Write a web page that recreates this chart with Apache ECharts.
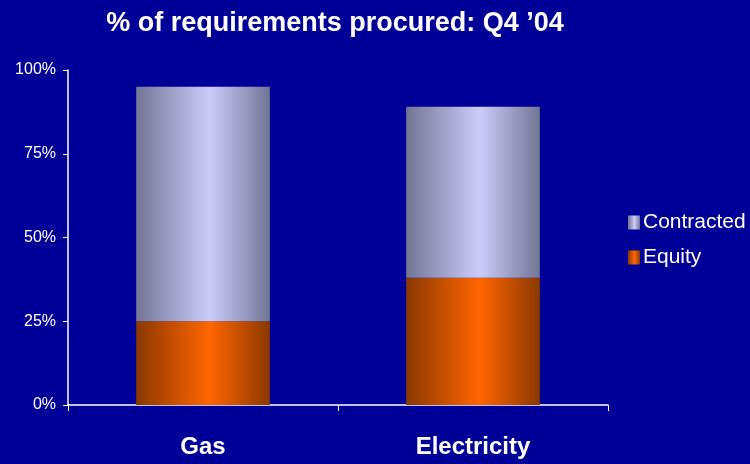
<!DOCTYPE html>
<html>
<head>
<meta charset="utf-8">
<script src="https://cdn.jsdelivr.net/npm/echarts@6/dist/echarts.min.js"></script>
<style>
  html, body { margin: 0; padding: 0; background: #000099; }
  #chart { width: 750px; height: 464px; }
</style>
</head>
<body>
<div id="chart"></div>
<script>
// data
const categories = ['Gas', 'Electricity'];
const equity = [25, 38];
const contracted = [70, 51];
const yTicks = [0, 25, 50, 75, 100];

// horizontal "cylinder" gradients
function cyl(edge, mid) {
  return new echarts.graphic.LinearGradient(0, 0, 1, 0, [
    { offset: 0, color: edge },
    { offset: 0.55, color: mid },
    { offset: 1, color: edge }
  ]);
}

const chart = echarts.init(document.getElementById('chart'));

chart.setOption({
  backgroundColor: '#000099',
  animation: false,
  textStyle: { fontFamily: 'Liberation Sans, Arial, sans-serif' },
  title: {
    text: '% of requirements procured: Q4 \u201904',
    left: 330,
    textAlign: 'center',
    top: 5,
    textStyle: { color: '#fff', fontSize: 27, fontWeight: 'bold' }
  },
  legend: {
    orient: 'vertical',
    left: 623,
    top: 207,
    itemWidth: 12,
    itemHeight: 14,
    itemGap: 14,
    icon: 'rect',
    data: ['Contracted', 'Equity'],
    textStyle: { color: '#fff', fontSize: 21, padding: [0, 0, 0, -2] }
  },
  grid: { left: 68, right: 142, top: 70, bottom: 59 },
  xAxis: {
    type: 'category',
    data: categories,
    axisLine: { lineStyle: { color: '#fff', width: 1.5 } },
    axisTick: { show: true, length: 6, lineStyle: { color: '#fff' } },
    axisLabel: { color: '#fff', fontSize: 24, fontWeight: 'bold', margin: 30 }
  },
  yAxis: {
    type: 'value',
    min: yTicks[0],
    max: yTicks[yTicks.length - 1],
    interval: 25,
    splitLine: { show: false },
    axisLine: { show: true, lineStyle: { color: '#fff', width: 1.5 } },
    axisTick: { show: true, length: 5, lineStyle: { color: '#fff' } },
    axisLabel: { color: '#fff', fontSize: 16, margin: 12, formatter: '{value}%' }
  },
  series: [
    {
      name: 'Equity',
      type: 'bar',
      stack: 'total',
      barWidth: '49.5%',
      data: equity,
      itemStyle: { color: cyl('#8a3800', '#ff6600') }
    },
    {
      name: 'Contracted',
      type: 'bar',
      stack: 'total',
      data: contracted,
      itemStyle: { color: cyl('#737595', '#ccccfa') }
    }
  ]
});
</script>
</body>
</html>
